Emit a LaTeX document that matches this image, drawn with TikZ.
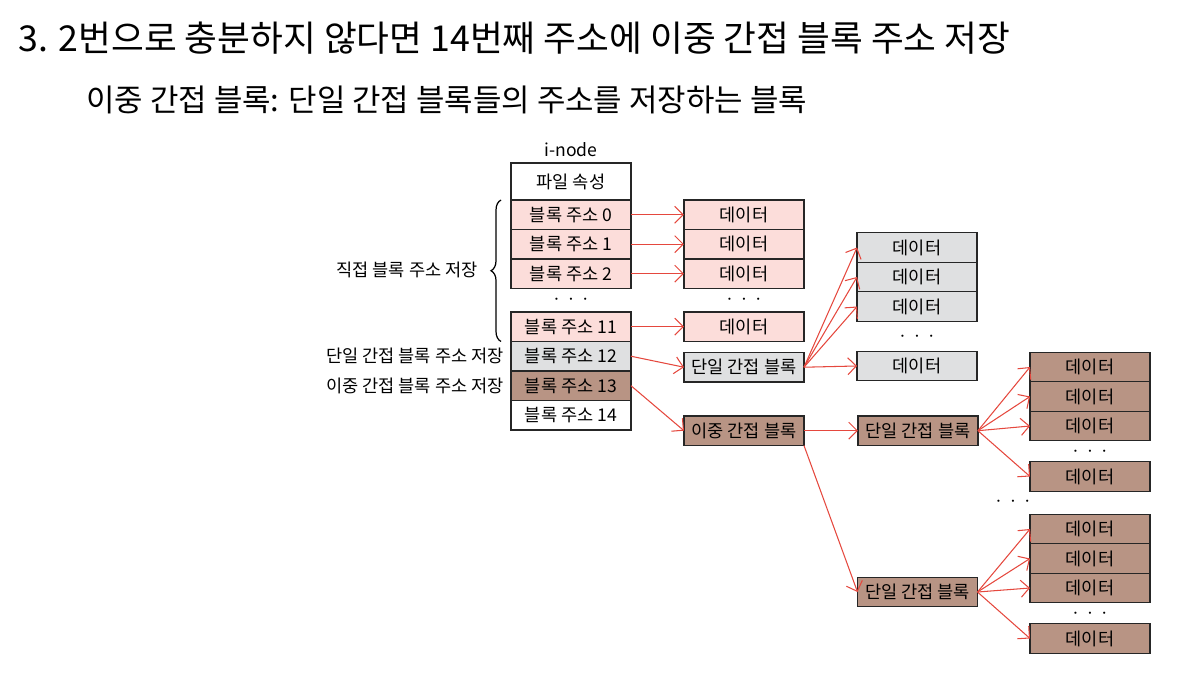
\documentclass[tikz,border=0pt]{standalone}
\usepackage{fontspec}
\setmainfont{Noto Sans CJK KR}
\usepackage{xcolor}
\usepackage{tikz}
\usetikzlibrary{arrows.meta, positioning, decorations.pathreplacing}
\definecolor{pinkcell}{RGB}{252,221,218}
\definecolor{graycell}{RGB}{223,224,225}
\definecolor{browncell}{RGB}{184,148,132}
\definecolor{arrowred}{RGB}{229,72,62}
\newcommand{\dotrow}{$\cdot$\hspace{1.7mm}$\cdot$\hspace{1.7mm}$\cdot$}
\tikzset{
  cell/.style={draw=black!85, line width=0.75pt, minimum width=2.4cm, minimum height=0.59cm, inner sep=0pt, outer sep=0pt, font=\fontsize{10}{12}\selectfont},
  plain/.style={cell, fill=white},
  direct/.style={cell, fill=pinkcell},
  single/.style={cell, fill=graycell},
  double/.style={cell, fill=browncell},
  arrow/.style={-{Straight Barb[length=1.7mm, width=3.4mm]}, line width=0.6pt, arrowred},
  note/.style={inner sep=0pt, font=\fontsize{10}{12}\selectfont},
  dots/.style={inner sep=0pt, font=\fontsize{12}{14}\selectfont}
}
\begin{document}
\begin{tikzpicture}[x=0.02cm, y=-0.02cm]
    \useasboundingbox (0,0) rectangle (1179,680);
    % titles
    \node[anchor=west, inner sep=0pt, font=\fontsize{20.3}{24}\selectfont] (title) at (18,38) {3. 2번으로 충분하지 않다면 14번째 주소에 이중 간접 블록 주소 저장};
    \node[anchor=west, inner sep=0pt, font=\fontsize{17.6}{21}\selectfont] (subtitle) at (86,100) {이중 간접 블록: 단일 간접 블록들의 주소를 저장하는 블록};

    % i-node
    \node[note] (inodelbl) at (571,150) {i-node};
    \node[plain, minimum height=0.74cm] (attr) at (571,181.5) {파일 속성};
    \node[direct, below=0pt of attr] (b0) {블록 주소 0};
    \node[direct, below=0pt of b0] (b1) {블록 주소 1};
    \node[direct, below=0pt of b1] (b2) {블록 주소 2};
    \node[dots] (idots) at (571,300) {\dotrow};
    \node[direct, below=0.47cm of b2] (b11) {블록 주소 11};
    \node[single, below=0pt of b11] (b12) {블록 주소 12};
    \node[double, below=0pt of b12] (b13) {블록 주소 13};
    \node[plain, below=0pt of b13] (b14) {블록 주소 14};

    \draw[decorate, decoration={brace, amplitude=2mm}, line width=0.7pt]
      ([xshift=-2mm]b11.south west) -- ([xshift=-2mm]b0.north west);
    \node[note, anchor=east] (dirlbl) at (478,270) {직접 블록 주소 저장};
    \node[note, left=1.4mm of b12] (snglbl) {단일 간접 블록 주소 저장};
    \node[note, left=1.4mm of b13] (dbllbl) {이중 간접 블록 주소 저장};

    % direct data
    \node[direct, right=1.06cm of b0] (d0) {데이터};
    \node[direct, below=0pt of d0] (d1) {데이터};
    \node[direct, below=0pt of d1] (d2) {데이터};
    \node[dots] (ddots) at (744,300) {\dotrow};
    \node[direct, right=1.06cm of b11] (d11) {데이터};
    \node[single, below=0.22cm of d11] (sgl) {단일 간접 블록};
    \node[double, below=0.68cm of sgl] (dbl) {이중 간접 블록};

    % single indirect data
    \node[single] (g0) at (917,247.5) {데이터};
    \node[single, below=0pt of g0] (g1) {데이터};
    \node[single, below=0pt of g1] (g2) {데이터};
    \node[dots] (gdots) at (917,337) {\dotrow};
    \node[single, below=0.6cm of g2] (g3) {데이터};

    % double indirect
    \node[double, right=1.08cm of dbl] (up) {단일 간접 블록};
    \node[double] (low) at (917.5,592) {단일 간접 블록};
    \node[dots] (mdots) at (1013,502) {\dotrow};

    \node[double] (e0) at (1090,367) {데이터};
    \node[double, below=0pt of e0] (e1) {데이터};
    \node[double, below=0pt of e1] (e2) {데이터};
    \node[dots] (edots) at (1090,452) {\dotrow};
    \node[double, below=0.42cm of e2] (e3) {데이터};

    \node[double] (f0) at (1090,529) {데이터};
    \node[double, below=0pt of f0] (f1) {데이터};
    \node[double, below=0pt of f1] (f2) {데이터};
    \node[dots] (fdots) at (1090,614) {\dotrow};
    \node[double, below=0.42cm of f2] (f3) {데이터};

    % arrows
    \draw[arrow] (b0.east) -- (d0.west);
    \draw[arrow] (b1.east) -- (d1.west);
    \draw[arrow] (b2.east) -- (d2.west);
    \draw[arrow] (b11.east) -- (d11.west);
    \draw[arrow] (b12.east) -- (sgl.west);
    \draw[arrow] (b13.east) -- (dbl.west);
    \foreach \t in {g0,g1,g2,g3}
      \draw[arrow] (sgl.east) -- (\t.west);
    \draw[arrow] (dbl.east) -- (up.west);
    \draw[arrow] (dbl.south east) -- (low.west);
    \foreach \t in {e0,e1,e2,e3}
      \draw[arrow] (up.east) -- (\t.west);
    \foreach \t in {f0,f1,f2,f3}
      \draw[arrow] (low.east) -- (\t.west);
\end{tikzpicture}
\end{document}
